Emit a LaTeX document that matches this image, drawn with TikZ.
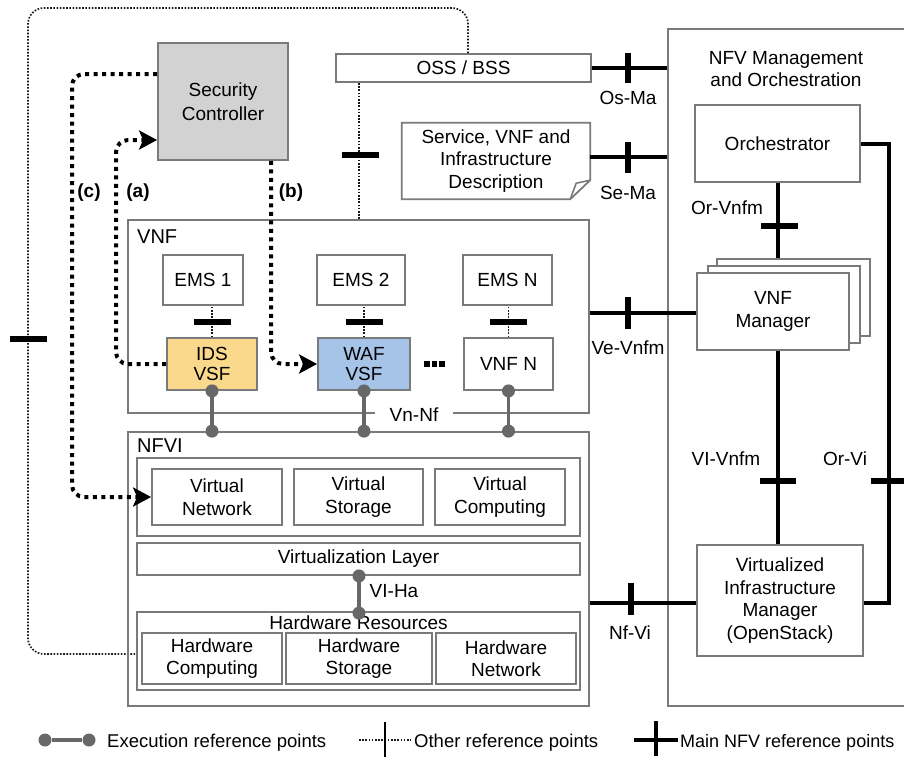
\documentclass[tikz,border=0pt]{standalone}
\usepackage{fontspec}
\setmainfont{Liberation Sans}
\usetikzlibrary{arrows.meta}
\definecolor{bordergray}{HTML}{7A7A7A}
\definecolor{execgray}{HTML}{686868}
\definecolor{idsfill}{HTML}{FAD88C}
\definecolor{waffill}{HTML}{A6C3E8}
\definecolor{scfill}{HTML}{D2D2D2}
\begin{document}
\begin{tikzpicture}[x=1pt,y=-1pt,
  font=\fontsize{19}{22.5}\selectfont,
  box/.style={draw=bordergray, line width=1.8pt, fill=white, inner sep=0pt, align=center},
  mainline/.style={line width=4pt, black},
  refbar/.style={line width=5.5pt, black},
  otherline/.style={line width=1.7pt, dash pattern=on 1.6pt off 1.6pt, black!90},
  exec/.style={line width=3.5pt, execgray},
  execdot/.style={circle, fill=execgray, inner sep=0pt, minimum size=13pt},
  secpath/.style={line width=4pt, dash pattern=on 4pt off 4.5pt, black, rounded corners=12pt},
  sectip/.style={-{Stealth[length=18pt,width=19pt,inset=4pt]}},
  lbl/.style={inner sep=0pt},
  blbl/.style={inner sep=0pt, font=\fontsize{19}{22.5}\selectfont\bfseries},
]
\fill[white] (0,0) rectangle (904,756);
\useasboundingbox (0,0) rectangle (904,756);

% ---------- outer dotted loop ----------
\node[box, minimum width=255pt, minimum height=28pt] (oss) at (463.5,68) {OSS / BSS};
\node[box, minimum width=443pt, minimum height=78pt] (hr) at (358.5,651) {};
\draw[otherline, rounded corners=16pt] ([xshift=4.5pt]oss.north) -- (468,8) -- (28,8) -- (28,654) -- ([yshift=-3pt]hr.west);
\draw[refbar] (10,339) -- (47,339);

% ---------- Security controller ----------
\node[box, fill=scfill, minimum width=130pt, minimum height=117pt] (sc) at (223,101.5) {Security\\[1.5pt]Controller};

% ---------- service description ----------
\node[lbl, minimum width=188pt, minimum height=76pt, align=center] (desc) at (496,161) {Service, VNF and\\Infrastructure\\Description};
\draw[bordergray, line width=1.8pt, line join=miter] (desc.north west) -- (desc.north east) -- ([yshift=19pt]desc.south east) -- ([xshift=-20pt]desc.south east) -- (desc.south west) -- cycle;
\draw[bordergray, line width=1.6pt] ([xshift=-20pt]desc.south east) -- ([xshift=-14pt,yshift=16pt]desc.south east) -- ([yshift=19pt]desc.south east);

% ---------- VNF ----------
\node[box, minimum width=461pt, minimum height=193pt] (vnf) at (358.5,316.5) {};
\node[lbl, anchor=west, font=\fontsize{20}{24}\selectfont] (vnflbl) at (137,237) {VNF};
\node[box, minimum width=80pt, minimum height=50pt] (ems1) at (203,280) {EMS 1};
\node[box, minimum width=88pt, minimum height=50pt] (ems2) at (361,280) {EMS 2};
\node[box, minimum width=89pt, minimum height=50pt] (emsn) at (507.5,280) {EMS N};
\node[box, fill=idsfill, minimum width=90pt, minimum height=52pt] (ids) at (212,364) {IDS\\[-2pt]VSF};
\node[box, fill=waffill, minimum width=92pt, minimum height=52pt] (waf) at (364,364) {WAF\\[-2pt]VSF};
\node[box, minimum width=89pt, minimum height=52pt] (vnfn) at (508.5,364) {VNF N};
\foreach \xx in {427,434.5,442} \fill (\xx-2.6,361) rectangle (\xx+2.6,366.5);

% other ref points EMS - VSF
\foreach \v/\e in {ids/ems1, waf/ems2, vnfn/emsn}{
  \draw[otherline] (\v.north) -- (\v.north |- \e.south);
  \draw[refbar] ([xshift=-18.5pt,yshift=15pt]\v.north) -- ([xshift=18.5pt,yshift=15pt]\v.north);
}

% OSS - VNF other ref point
\draw[otherline] ([xshift=24pt]oss.south west) -- ([xshift=24pt]oss.south west |- vnf.north);
\draw[refbar] (342,155) -- (379,155);

% ---------- NFVI ----------
\node[box, fill=none, minimum width=461pt, minimum height=274pt] (nfvi) at (358.5,569) {};
\node[lbl, anchor=west, font=\fontsize{20}{24}\selectfont] (nfvilbl) at (137,446) {NFVI};
\node[box, minimum width=443pt, minimum height=78pt] (vgrp) at (358.5,497) {};
\node[box, minimum width=130pt, minimum height=56pt] (vnet) at (217,497) {Virtual\\Network};
\node[box, minimum width=129pt, minimum height=56pt] (vsto) at (358.5,497) {Virtual\\Storage};
\node[box, minimum width=130pt, minimum height=56pt] (vcom) at (500,497) {Virtual\\Computing};
\node[box, minimum width=443pt, minimum height=32pt] (vl) at (358.5,559) {Virtualization Layer};
\node[lbl] (hrt) at (358.5,623) {Hardware Resources};
\node[box, minimum width=140pt, minimum height=51pt] (hc) at (212,658.5) {Hardware\\Computing};
\node[box, minimum width=146pt, minimum height=51pt] (hs) at (359,658.5) {Hardware\\Storage};
\node[box, minimum width=140pt, minimum height=51pt] (hn) at (506,658.5) {Hardware\\Network};

% Vn-Nf label breaking VNF bottom border
\node[fill=white, inner xsep=15pt, inner ysep=1pt] (vnnf) at (414,415) {Vn-Nf};

% execution reference points
\foreach \v in {ids, waf, vnfn}{
  \draw[exec] (\v.south) -- (\v.south |- nfvi.north);
  \node[execdot] at (\v.south) {};
  \node[execdot] at (\v.south |- nfvi.north) {};
}
\draw[exec] ([xshift=0.5pt]vl.south) -- ([xshift=0.5pt]vl.south |- hr.north);
\node[execdot] (viha1) at ([xshift=0.5pt]vl.south) {};
\node[execdot] (viha2) at ([xshift=0.5pt,yshift=-2pt]vl.south |- hr.north) {};
\node[lbl] (vihalbl) at (394,591) {VI-Ha};

% ---------- MANO ----------
\node[box, fill=none, minimum width=272pt, minimum height=677pt] (mano) at (804,367.5) {};
\node[lbl, align=center] (manot) at (786,69) {NFV Management\\and Orchestration};
\node[box, minimum width=165pt, minimum height=77pt] (orch) at (777.5,143.5) {Orchestrator};
\node[box, minimum width=153pt, minimum height=77pt] (vnfm3) at (793.5,297.5) {};
\node[box, minimum width=152pt, minimum height=77pt] (vnfm2) at (784,304.5) {};
\node[box, minimum width=152pt, minimum height=77pt] (vnfm) at (773,311.5) {VNF\\Manager};
\node[box, minimum width=166pt, minimum height=111pt] (vim) at (780,600.5) {Virtualized\\Infrastructure\\Manager\\(OpenStack)};

% main reference points
\draw[mainline] (oss.east) -- (mano.west |- oss.east);
\draw[refbar] (628,53) -- (628,83);
\node[lbl] (osma) at (628,98) {Os-Ma};

\draw[mainline] ([yshift=4pt]desc.east) -- (mano.west |- 0,157);
\draw[refbar] (628,142) -- (628,173);
\node[lbl] (sema) at (628,193) {Se-Ma};

\draw[mainline] (orch.south) -- (orch.south |- vnfm3.north);
\draw[refbar] (761,226) -- (798,226);
\node[lbl] (orvnfm) at (727,208) {Or-Vnfm};

\draw[mainline] (vnf.east |- 0,313) -- (vnfm.west |- 0,313);
\draw[refbar] (628,297) -- (628,329);
\node[lbl] (vevnfm) at (628,348) {Ve-Vnfm};

\draw[mainline] (orch.south |- vnfm.south) -- (orch.south |- vim.north);
\draw[refbar] (760,481) -- (796,481);
\node[lbl] (vivnfm) at (726,459) {VI-Vnfm};

\draw[mainline, line join=miter] (orch.east) -- ++(28,0) |- ([yshift=-2.5pt]vim.east);
\draw[refbar] (871,481) -- (907,481);
\node[lbl] (orvi) at (845,459) {Or-Vi};

\draw[mainline] (nfvi.east |- 0,603) -- (vim.west |- 0,603);
\draw[refbar] (631,583) -- (631,615);
\node[lbl] (nfvi2) at (630,633) {Nf-Vi};

% ---------- security paths ----------
\draw[secpath, sectip] ([yshift=27.5pt]sc.west) -- (72,74) -- (72,497) -- (vnet.west);
\draw[secpath, sectip] (ids.west) -- (116,364) -- (116,140) -- ([yshift=-38.5pt]sc.west);
\draw[secpath, sectip] ([xshift=48pt]sc.south) -- (271,364) -- (waf.west);
\node[blbl] (lc) at (89,193) {(c)};
\node[blbl] (la) at (138,193) {(a)};
\node[blbl] (lb) at (291,193) {(b)};

% ---------- legend ----------
\node[execdot] (lg1) at (45,740) {};
\node[execdot] (lg2) at (89,740) {};
\draw[exec] (lg1) -- (lg2);
\node[lbl, anchor=base west, font=\fontsize{18.5}{22}\selectfont] (lgt1) at (107,747) {Execution reference points};
\coordinate (lo1) at (359,740);
\coordinate (lo2) at (411,740);
\draw[otherline] (lo1) -- (lo2);
\draw[line width=2.5pt] (385,722) -- (385,758);
\node[lbl, anchor=base west, font=\fontsize{18.5}{22}\selectfont] (lgt2) at (414,747) {Other reference points};
\draw[line width=4.5pt] (634,740) -- (678,740);
\draw[line width=4pt] (656,721) -- (656,756);
\node[lbl, anchor=base west, font=\fontsize{18}{22}\selectfont] (lgt3) at (680,747) {Main NFV reference points};
\end{tikzpicture}
\end{document}
